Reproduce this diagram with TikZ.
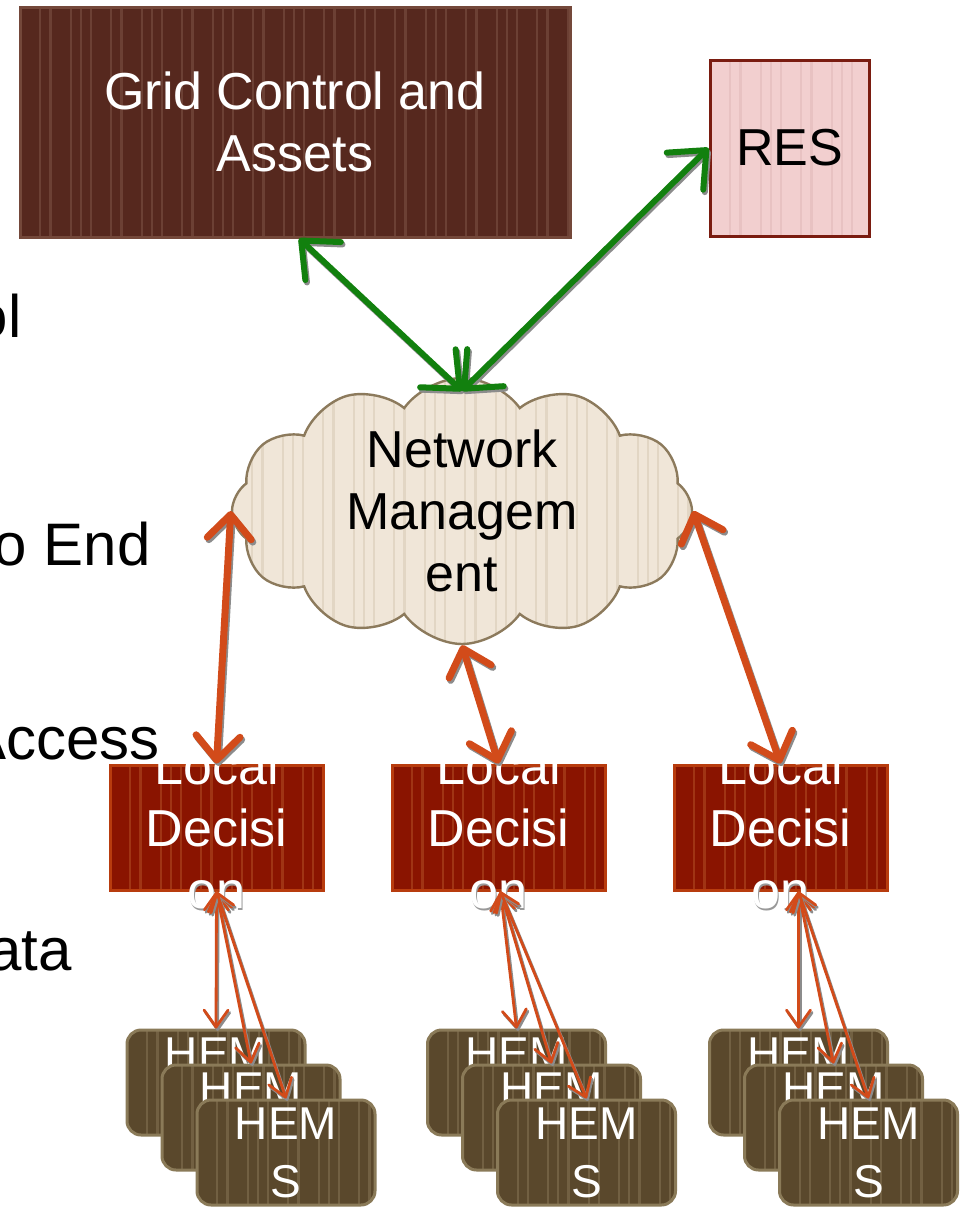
\documentclass[tikz,border=0pt]{standalone}
\usepackage{fontspec}
\setmainfont{Liberation Sans}
\usetikzlibrary{arrows.meta,shapes.symbols}

\definecolor{gridfill}{RGB}{86,40,30}
\definecolor{gridline}{RGB}{116,72,58}
\definecolor{gridstripe}{RGB}{108,64,52}
\definecolor{resfill}{RGB}{242,207,207}
\definecolor{resline}{RGB}{122,28,16}
\definecolor{resstripe}{RGB}{232,194,194}
\definecolor{cloudfill}{RGB}{240,230,216}
\definecolor{cloudline}{RGB}{140,122,92}
\definecolor{cloudstripe}{RGB}{226,214,196}
\definecolor{ldfill}{RGB}{138,20,0}
\definecolor{ldline}{RGB}{184,60,14}
\definecolor{ldstripe}{RGB}{160,52,20}
\definecolor{hemsfill}{RGB}{90,72,44}
\definecolor{hemsline}{RGB}{138,122,88}
\definecolor{hemsstripe}{RGB}{114,96,66}
\definecolor{linkgreen}{RGB}{18,128,14}
\definecolor{linkorange}{RGB}{210,75,26}

% a link drawn twice: a grey copy set off a little, then the link itself
\newcommand\castlink[3]{%
  \draw[#1, draw=black!45, transform canvas={shift={(0.8pt,-1.2pt)}}] #2 -- #3;
  \draw[#1] #2 -- #3;}

\tikzset{
  stripes/.style={path picture={
    \foreach \i [evaluate=\i as \s using {\i*7.1+mod(\i*13,5)}] in {0,...,70}
      \draw[#1, line width=1.1pt]
        ([xshift=\s pt]path picture bounding box.south west) --
        ([xshift=\s pt]path picture bounding box.north west);
  }},
  bigfont/.style={font=\fontsize{26}{31}\selectfont},
  gridbox/.style={draw=gridline, line width=1.5pt, fill=gridfill, stripes=gridstripe,
    minimum width=275pt, minimum height=115pt, inner sep=0pt,
    text=white, align=center, bigfont},
  resbox/.style={draw=resline, line width=1.5pt, fill=resfill, stripes=resstripe,
    minimum width=79.5pt, minimum height=88pt, inner sep=0pt, bigfont},
  netcloud/.style={cloud, cloud puffs=12, cloud puff arc=110, cloud ignores aspect,
    minimum width=230pt, minimum height=133pt, inner sep=0pt,
    draw=cloudline, line width=1.2pt, fill=cloudfill, stripes=cloudstripe,
    align=center, bigfont},
  ldbox/.style={draw=ldline, line width=1.5pt, fill=ldfill, stripes=ldstripe,
    minimum width=106.5pt, minimum height=62.5pt, inner sep=0pt},
  ldtext/.style={text=white, align=center, bigfont, inner sep=0pt},
  ldshade/.style={text=black!40, align=center, bigfont, inner sep=0pt},
  hemsbox/.style={draw=hemsline, line width=1.5pt, fill=hemsfill, stripes=hemsstripe,
    rounded corners=7pt, minimum width=89pt, minimum height=52.5pt, inner sep=0pt,
    text=white, align=center, font=\fontsize{23}{29}\selectfont},
  sidetext/.style={anchor=base east, inner sep=0pt, font=\fontsize{30}{36}\selectfont},
  garrow/.style={draw=linkgreen, line width=3pt,
    {Straight Barb[length=15pt,width=26pt,round]}-{Straight Barb[length=15pt,width=26pt,round]}},
  oarrow/.style={draw=linkorange, line width=3.5pt,
    {Straight Barb[length=12pt,width=22pt,round]}-{Straight Barb[length=12pt,width=22pt,round]}},
  tarrow/.style={draw=linkorange, line width=1.4pt,
    {Straight Barb[length=8.5pt,width=12pt,round]}-{Straight Barb[length=8.5pt,width=12pt,round]}},
}

\begin{document}
\begin{tikzpicture}[x=0.5pt, y=-0.5pt]
  \useasboundingbox[fill=white] (0,0) rectangle (962,1207);

  % text lines running in from the left
  \node[sidetext] (s1) at (22,337) {ol};
  \node[sidetext] (s2) at (151,565) {o End};
  \node[sidetext] (s3) at (160,759) {Access};
  \node[sidetext] (s4) at (72,970) {ata};

  % top layer
  \node[gridbox] (grid) at (295,122) {Grid Control and\\Assets};
  \node[resbox] (res) at (789.5,148) {RES};
  \node[netcloud] (net) at (462,511) {Network\\Managem\\ent};
  \coordinate (nettop) at ([yshift=-7pt]net.north);

  % local decision boxes (the last line casts a grey shade below the box)
  \foreach \n/\x in {1/216.5, 2/498.5, 3/780.5} {
    \node[ldbox] (ld\n) at (\x,827.5) {};
    \node[ldshade] (ld\n s) at ([shift={(0.5pt,-1.2pt)}]ld\n.center)
      {\phantom{Local}\\\phantom{Decisi}\\on};
    \node[ldtext] (ld\n t) at (ld\n.center) {Local\\Decisi\\on};
  }

  % stacked HEMS boxes
  \foreach \n/\x in {1/216, 2/516.5, 3/798.5} {
    \node[hemsbox] (h\n a) at (\x,1082.5) {HEM\\S};
    \node[hemsbox] (h\n b) at (\x+35,1117.5) {HEM\\S};
    \node[hemsbox] (h\n c) at (\x+70,1152.5) {HEM\\S};
  }

  % links to the network cloud
  \castlink{garrow}{([xshift=2pt]grid.south)}{(nettop)}
  \castlink{garrow}{(res.west)}{(nettop)}
  \castlink{oarrow}{(net.west)}{(ld1.north)}
  \castlink{oarrow}{(net.south)}{(ld2.north)}
  \castlink{oarrow}{(net.east)}{(ld3.north)}

  % links down to the HEMS
  \foreach \n/\d in {1/0, 2/1, 3/9} {
    \castlink{tarrow}{([xshift=\d pt]ld\n.south)}{(h\n a.north)}
    \castlink{tarrow}{([xshift=\d pt]ld\n.south)}{(h\n b.north)}
    \castlink{tarrow}{([xshift=\d pt]ld\n.south)}{(h\n c.north)}
  }
\end{tikzpicture}
\end{document}
